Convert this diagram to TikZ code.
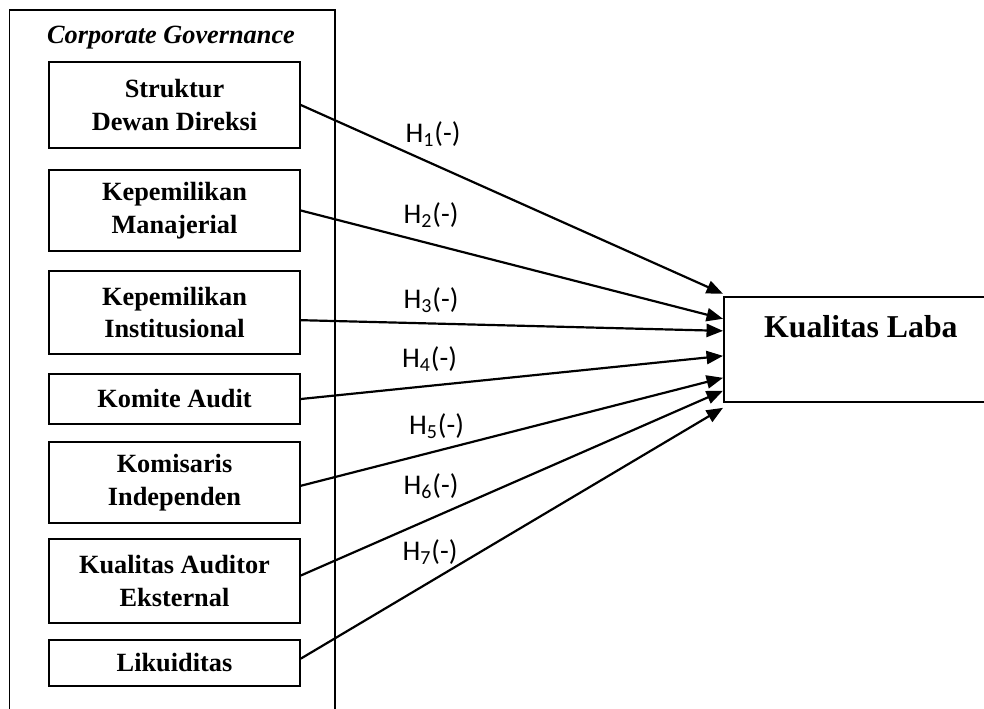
\documentclass[tikz,border=0pt]{standalone}
\usepackage{fontspec}
\setmainfont{Liberation Serif}
\newfontfamily\labelfont{Carlito}
\usetikzlibrary{arrows.meta}
\begin{document}
\begin{tikzpicture}[x=0.456pt, y=-0.456pt,
  varbox/.style={draw, line width=0.7pt, minimum width=114.5pt, align=center, inner sep=0pt, font=\fontsize{12}{15}\selectfont\bfseries},
  hyp/.style={-{Triangle[length=7.5pt,width=6pt]}, line width=1pt},
  hlabel/.style={font=\labelfont\fontsize{13}{15}\selectfont, inner sep=0pt}]
\useasboundingbox (0,0) rectangle (984,709);
\clip (0,0) rectangle (984,709);
\draw[line width=0.7pt] (9.5,730) rectangle (335,10);
\node[font=\fontsize{12}{15}\selectfont\bfseries\itshape] (cg) at (171,38) {Corporate Governance};
\node[varbox, minimum height=39.2pt] (sdd) at (174.5,105) {Struktur\\Dewan Direksi};
\node[varbox, minimum height=36.9pt] (km) at (174.5,210.5) {Kepemilikan\\Manajerial};
\node[varbox, minimum height=37.8pt] (ki) at (174.5,312.5) {Kepemilikan\\Institusional};
\node[varbox, minimum height=22.8pt] (ka) at (174.5,399) {Komite Audit};
\node[varbox, minimum height=36.9pt] (kin) at (174.5,482.5) {Komisaris\\Independen};
\node[varbox, minimum height=38.3pt] (kae) at (174.5,581) {Kualitas Auditor\\Eksternal};
\node[varbox, minimum height=21pt] (lik) at (174.5,663) {Likuiditas};
\node[draw, line width=0.7pt, anchor=north west, minimum width=125pt, inner sep=0pt, text height=18.7pt, text depth=29.2pt, font=\fontsize{14.5}{17}\selectfont\bfseries] (kl) at (723,296) {Kualitas Laba};
% hipotesis
\draw[hyp] (sdd.east) -- ([yshift=25.3pt]kl.west);
\draw[hyp] (km.east) -- ([yshift=13.9pt]kl.west);
\draw[hyp] ([yshift=-3.5pt]ki.east) -- ([yshift=8.4pt]kl.west);
\draw[hyp] (ka.east) -- ([yshift=-3pt]kl.west);
\draw[hyp] ([yshift=-1.5pt]kin.east) -- ([yshift=-13pt]kl.west);
\draw[hyp] ([yshift=2.5pt]kae.east) -- ([yshift=-18.9pt]kl.west);
\draw[hyp] ([yshift=2pt]lik.east) -- ([yshift=-26.7pt]kl.west);
\node[hlabel] (h1) at (433,134) {H\textsubscript{1}(-)};
\node[hlabel] (h2) at (431,215) {H\textsubscript{2}(-)};
\node[hlabel] (h3) at (431,300) {H\textsubscript{3}(-)};
\node[hlabel] (h4) at (429.5,359) {H\textsubscript{4}(-)};
\node[hlabel] (h5) at (436.5,426) {H\textsubscript{5}(-)};
\node[hlabel] (h6) at (431,486) {H\textsubscript{6}(-)};
\node[hlabel] (h7) at (430,552) {H\textsubscript{7}(-)};
\end{tikzpicture}
\end{document}
